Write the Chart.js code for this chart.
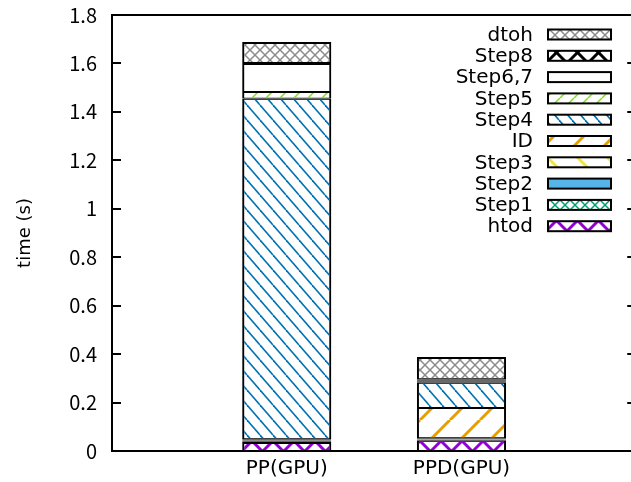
<!DOCTYPE html>
<html>
<head>
<meta charset="utf-8">
<script src="https://cdn.jsdelivr.net/npm/chart.js@4"></script>
<style>
  html, body { margin: 0; padding: 0; background: #fff; overflow: hidden; }
</style>
</head>
<body>
<canvas id="chart" width="631" height="482"></canvas>
<script>
// data (seconds)
const categories = ["PP(GPU)", "PPD(GPU)"];
const yTicks = [0, 0.2, 0.4, 0.6, 0.8, 1, 1.2, 1.4, 1.6, 1.8];
// x range: the plot's right border (x = 2) lies just past the picture's edge
const xMin = -1, xEnd = 2, xVisibleMax = 1.97;

const htod   = [0.033, 0.042];
const step1  = [0.004, 0.004];
const step2  = [0.003, 0.003];
const step3  = [0.003, 0.004];
const idStep = [0.005, 0.125];
const step4  = [1.406, 0.104];
const step5  = [0.028, 0.004];
const step67 = [0.116, 0.006];
const step8  = [0.004, 0.004];
const dtoh   = [0.087, 0.092];

const TEXT_FONT = "'DejaVu Sans', sans-serif";
const NUM_FONT = "'Noto Sans CJK JP', 'DejaVu Sans', sans-serif";

// gnuplot-like fill patterns
function makePattern(kind, color, lw) {
  const sizes = { crossBig: [21, 21], crossSmall: [10, 10], solid: [4, 4], empty: [4, 4],
                  bsDense: [13, 15], fsDense: [14, 14], bsWide: [30, 30], fsWide: [30, 30] };
  const [w, h] = sizes[kind];
  const c = document.createElement("canvas");
  c.width = w; c.height = h;
  const g = c.getContext("2d");
  g.strokeStyle = color;
  g.fillStyle = color;
  g.lineWidth = lw || 1.5;
  const line = (x0, y0, x1, y1) => { g.beginPath(); g.moveTo(x0, y0); g.lineTo(x1, y1); g.stroke(); };
  const back = () => { for (const k of [-1, 0, 1]) line(k * w, 0, (k + 1) * w, h); };
  const fwd = () => { for (const k of [-1, 0, 1]) line(k * w, h, (k + 1) * w, 0); };
  if (kind === "solid") g.fillRect(0, 0, w, h);
  else if (kind === "crossBig" || kind === "crossSmall") { back(); fwd(); }
  else if (kind === "bsDense" || kind === "bsWide") back();
  else if (kind === "fsDense" || kind === "fsWide") fwd();
  return g.createPattern(c, "repeat");
}

const seriesNames = ["htod", "Step1", "Step2", "Step3", "ID", "Step4", "Step5", "Step6,7", "Step8", "dtoh"];
const seriesValues = [htod, step1, step2, step3, idStep, step4, step5, step67, step8, dtoh];
const seriesFills = [
  makePattern("crossBig", "#9400d3", 3),
  makePattern("crossSmall", "#009e73", 1.5),
  makePattern("solid", "#56b4e9"),
  makePattern("bsWide", "#f0e442", 3),
  makePattern("fsWide", "#e69f00", 3),
  makePattern("bsDense", "#0072b2", 1.6),
  makePattern("fsDense", "#7fe020", 1.5),
  makePattern("empty", "#000"),
  makePattern("crossBig", "#000000", 3),
  makePattern("crossSmall", "#8c8c8c", 1.5)
];

const datasets = seriesNames.map((name, i) => ({
  label: name,
  data: seriesValues[i].map((v, j) => ({ x: j, y: v })),
  backgroundColor: seriesFills[i],
  borderColor: "#000",
  borderWidth: { top: i === seriesNames.length - 1 ? 2 : 1, bottom: 1, left: 2, right: 2 },
  borderSkipped: false,
  barPercentage: 0.51,
  categoryPercentage: 1
}));

// frame, inward ticks and the legend, like gnuplot
const framePlugin = {
  id: "frame",
  afterDatasetsDraw(chart) {
    const { ctx, chartArea: a, scales: { x, y } } = chart;
    const xr = x.getPixelForValue(xEnd);
    ctx.save();
    ctx.strokeStyle = "#000";
    ctx.lineWidth = 2;
    ctx.strokeRect(a.left, a.top, xr - a.left, a.bottom - a.top);
    yTicks.forEach(t => {
      const py = Math.round(y.getPixelForValue(t));
      ctx.beginPath();
      ctx.moveTo(a.left, py); ctx.lineTo(a.left + 9, py);
      ctx.moveTo(xr, py); ctx.lineTo(xr - 9, py);
      ctx.stroke();
    });

    // legend: top entry is the last series
    ctx.font = "20px " + TEXT_FONT;
    ctx.textAlign = "right";
    ctx.textBaseline = "middle";
    ctx.fillStyle = "#000";
    chart.data.datasets.slice().reverse().forEach((ds, r) => {
      const cy = 34.5 + r * 21.3;
      ctx.fillText(ds.label, 533, cy + 1);
      ctx.fillStyle = ds.backgroundColor;
      ctx.fillRect(548, cy - 5, 63, 10);
      ctx.fillStyle = "#000";
      ctx.strokeRect(548, cy - 5, 63, 10);
    });
    ctx.restore();
  }
};

new Chart(document.getElementById("chart"), {
  type: "bar",
  data: { datasets: datasets },
  options: {
    responsive: false,
    animation: false,
    devicePixelRatio: 1,
    layout: { autoPadding: false, padding: { top: 15, right: 0, left: 0, bottom: 0 } },
    plugins: { legend: { display: false }, tooltip: { enabled: false } },
    scales: {
      x: {
        type: "linear",
        stacked: true,
        offset: false,
        min: xMin,
        max: xVisibleMax,
        grid: { display: false, drawTicks: false },
        border: { display: false },
        afterBuildTicks: s => { s.ticks = categories.map((c, i) => ({ value: i })).concat([{ value: xMin }]); },
        afterFit: s => { s.height = 31; s.paddingLeft = 0; s.paddingRight = 0; },
        ticks: {
          autoSkip: false,
          maxRotation: 0,
          padding: 6,
          color: "#000",
          font: { family: TEXT_FONT, size: 20 },
          callback: v => (Number.isInteger(v) && categories[v]) ? categories[v] : ""
        }
      },
      y: {
        stacked: true,
        min: 0,
        max: 1.8,
        grid: { display: false, drawTicks: false },
        border: { display: false },
        afterFit: s => { s.width = 112; s.paddingTop = 0; s.paddingBottom = 0; },
        afterBuildTicks: s => { s.ticks = yTicks.map(v => ({ value: v })); },
        ticks: {
          padding: 15,
          color: "#000",
          font: { family: NUM_FONT, size: 20 },
          callback: v => String(+v.toFixed(1))
        },
        title: {
          display: true,
          text: "time (s)",
          color: "#000",
          font: { family: TEXT_FONT, size: 18 },
          padding: { top: 15, bottom: 0 }
        }
      }
    }
  },
  plugins: [framePlugin]
});
</script>
</body>
</html>
